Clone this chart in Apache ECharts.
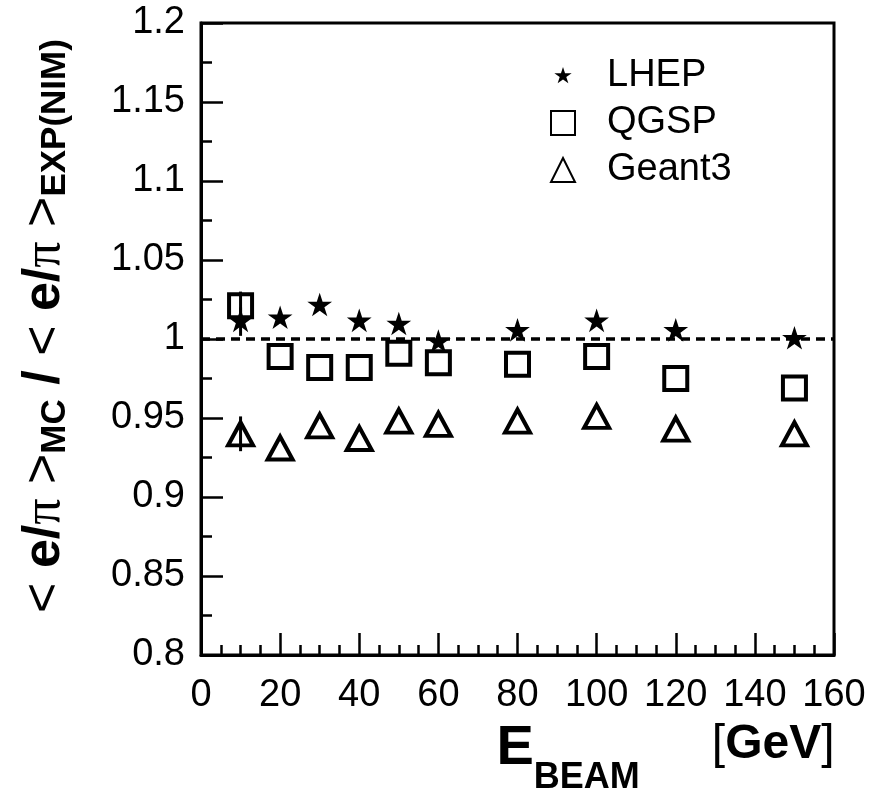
<!DOCTYPE html>
<html>
<head>
<meta charset="utf-8">
<script src="https://cdn.jsdelivr.net/npm/echarts@6/dist/echarts.min.js"></script>
<style>
html, body { margin: 0; padding: 0; background: #fff; }
#main { width: 888px; height: 795px; }
</style>
</head>
<body>
<div id="main"></div>
<script>
// beam energies (GeV)
var energies = [10, 20, 30, 40, 50, 60, 80, 100, 120, 150];
// MC / data ratios
var lhep   = [1.011, 1.013, 1.021, 1.011, 1.009, 0.998, 1.005, 1.011, 1.005, 1.000];
var qgsp   = [1.021, 0.989, 0.982, 0.982, 0.991, 0.985, 0.984, 0.989, 0.975, 0.969];
var geant3 = [0.940, 0.931, 0.945, 0.937, 0.948, 0.946, 0.948, 0.951, 0.943, 0.940];
// error bars (only visible at 10 GeV)
var lhepErr   = [0.009, 0, 0, 0, 0, 0, 0, 0, 0, 0];
var qgspErr   = [0.009, 0, 0, 0, 0, 0, 0, 0, 0, 0];
var geant3Err = [0.011, 0, 0, 0, 0, 0, 0, 0, 0, 0];
var refLine = 1;
var xTickLabels = ['0', '20', '40', '60', '80', '100', '120', '140', '160'];
var yTickLabels = ['0.8', '0.85', '0.9', '0.95', '1', '1.05', '1.1', '1.15', '1.2'];

var FONT = 'Liberation Sans, Arial, sans-serif';
var star = 'M0,0M100,100M50,0L61.2,34.6L97.6,34.5L68.1,55.9L79.4,90.5L50,69L20.6,90.5L31.9,55.9L2.4,34.5L38.8,34.6Z';
var starIcon = 'path://M-16,-16M116,116M50,0L61.2,34.6L97.6,34.5L68.1,55.9L79.4,90.5L50,69L20.6,90.5L31.9,55.9L2.4,34.5L38.8,34.6Z';

function pairs(vals) {
    var out = [];
    for (var i = 0; i < energies.length; i++) out.push([energies[i], vals[i]]);
    return out;
}

var errData = [];
[[lhep, lhepErr], [qgsp, qgspErr], [geant3, geant3Err]].forEach(function (s) {
    for (var i = 0; i < energies.length; i++) {
        if (s[1][i] > 0) errData.push([energies[i], s[0][i] - s[1][i], s[0][i] + s[1][i]]);
    }
});

var myChart = echarts.init(document.getElementById('main'));

var option = {
    animation: false,
    backgroundColor: '#fff',
    grid: {
        left: 201, right: 54, top: 23, bottom: 140,
        containLabel: false,
        outerBoundsMode: 'none',
        show: true, borderColor: '#000', borderWidth: 3
    },
    legend: {
        orient: 'vertical',
        left: 545,
        top: 52,
        itemWidth: 24,
        itemHeight: 24,
        itemGap: 9,
        textStyle: { fontSize: 38, fontFamily: FONT, color: '#000', lineHeight: 38, padding: [0, 0, 0, 27] },
        data: [
            { name: 'LHEP', icon: starIcon },
            { name: 'QGSP' },
            { name: 'Geant3' }
        ]
    },
    xAxis: {
        type: 'value',
        min: 0, max: 160, interval: 20,
        name: '{e|E}{s|BEAM}{n|[}{g|GeV}{m|]}',
        nameLocation: 'middle',
        nameGap: 66,
        nameMoveOverlap: false,
        nameTextStyle: {
            padding: [0, 0, 0, 296],
            rich: {
                e: { fontSize: 56, fontWeight: 'bold', fontFamily: FONT, color: '#000', lineHeight: 54, verticalAlign: 'top' },
                s: { fontSize: 36, fontWeight: 'bold', fontFamily: FONT, color: '#000', lineHeight: 75, verticalAlign: 'bottom' },
                n: { fontSize: 48, fontFamily: FONT, color: '#000', lineHeight: 54, verticalAlign: 'top', padding: [0, 0, 0, 72] },
                m: { fontSize: 48, fontFamily: FONT, color: '#000', lineHeight: 54, verticalAlign: 'top' },
                g: { fontSize: 48, fontWeight: 'bold', fontFamily: FONT, color: '#000', lineHeight: 54, verticalAlign: 'top' }
            }
        },
        axisLine: { show: true, onZero: false, lineStyle: { color: '#000', width: 3 } },
        axisTick: { inside: true, length: 22, lineStyle: { color: '#000', width: 2.5 } },
        minorTick: { show: true, splitNumber: 4, length: 10, lineStyle: { color: '#000', width: 2.5 } },
        splitLine: { show: false },
        axisLabel: {
            fontSize: 38, fontFamily: FONT, color: '#000', margin: 22,
            formatter: function (v) { return xTickLabels[Math.round(v / 20)]; }
        }
    },
    yAxis: {
        type: 'value',
        min: 0.8, max: 1.2, interval: 0.05,
        name: '{n|< }{b|e/}{p|π}{n| >}{s|MC}{b| / }{n|< }{b|e/}{p|π}{n| >}{s|EXP(NIM)}',
        nameLocation: 'middle',
        nameRotate: 90,
        nameGap: 128,
        nameTextStyle: {
            padding: [0, 0, 0, 26],
            rich: {
                n: { fontSize: 52, fontFamily: FONT, color: '#000', lineHeight: 54, verticalAlign: 'top' },
                b: { fontSize: 52, fontWeight: 'bold', fontFamily: FONT, color: '#000', lineHeight: 54, verticalAlign: 'top' },
                p: { fontSize: 52, fontFamily: 'Liberation Serif, DejaVu Serif, serif', color: '#000', lineHeight: 54, verticalAlign: 'top' },
                s: { fontSize: 35, fontWeight: 'bold', fontFamily: FONT, color: '#000', lineHeight: 34, padding: [32, 0, 0, 0], verticalAlign: 'bottom' }
            }
        },
        axisLine: { show: true, onZero: false, lineStyle: { color: '#000', width: 3 } },
        axisTick: { inside: true, length: 22, lineStyle: { color: '#000', width: 2.5 } },
        minorTick: { show: true, splitNumber: 2, length: 11, lineStyle: { color: '#000', width: 2.5 } },
        splitLine: { show: false },
        axisLabel: {
            fontSize: 38, fontFamily: FONT, color: '#000', margin: 16,
            formatter: function (v) { return yTickLabels[Math.round((v - 0.8) / 0.05)]; }
        }
    },
    series: [
        {
            name: 'LHEP',
            type: 'scatter',
            symbol: 'path://' + star,
            symbolSize: 26,
            itemStyle: { color: '#000', opacity: 1 },
            z: 4,
            data: pairs(lhep),
            markLine: {
                silent: true,
                symbol: ['none', 'none'],
                label: { show: false },
                lineStyle: { color: '#000', width: 3.5, type: [9, 6], opacity: 1 },
                data: [{ yAxis: refLine }]
            }
        },
        {
            name: 'QGSP',
            type: 'scatter',
            symbol: 'rect',
            symbolSize: 23,
            itemStyle: { color: 'rgba(0,0,0,0)', borderColor: '#000', borderWidth: 4, opacity: 1 },
            z: 3,
            data: pairs(qgsp)
        },
        {
            name: 'Geant3',
            type: 'scatter',
            symbol: 'triangle',
            symbolSize: [25, 23],
            itemStyle: { color: 'rgba(0,0,0,0)', borderColor: '#000', borderWidth: 4, opacity: 1 },
            z: 3,
            data: pairs(geant3)
        },
        {
            name: 'errors',
            type: 'custom',
            z: 2,
            renderItem: function (params, api) {
                var p1 = api.coord([api.value(0), api.value(1)]);
                var p2 = api.coord([api.value(0), api.value(2)]);
                return {
                    type: 'line',
                    shape: { x1: p1[0], y1: p1[1], x2: p2[0], y2: p2[1] },
                    style: { stroke: '#000', lineWidth: 3 }
                };
            },
            encode: { x: 0, y: [1, 2] },
            data: errData
        }
    ]
};

myChart.setOption(option);
</script>
</body>
</html>
